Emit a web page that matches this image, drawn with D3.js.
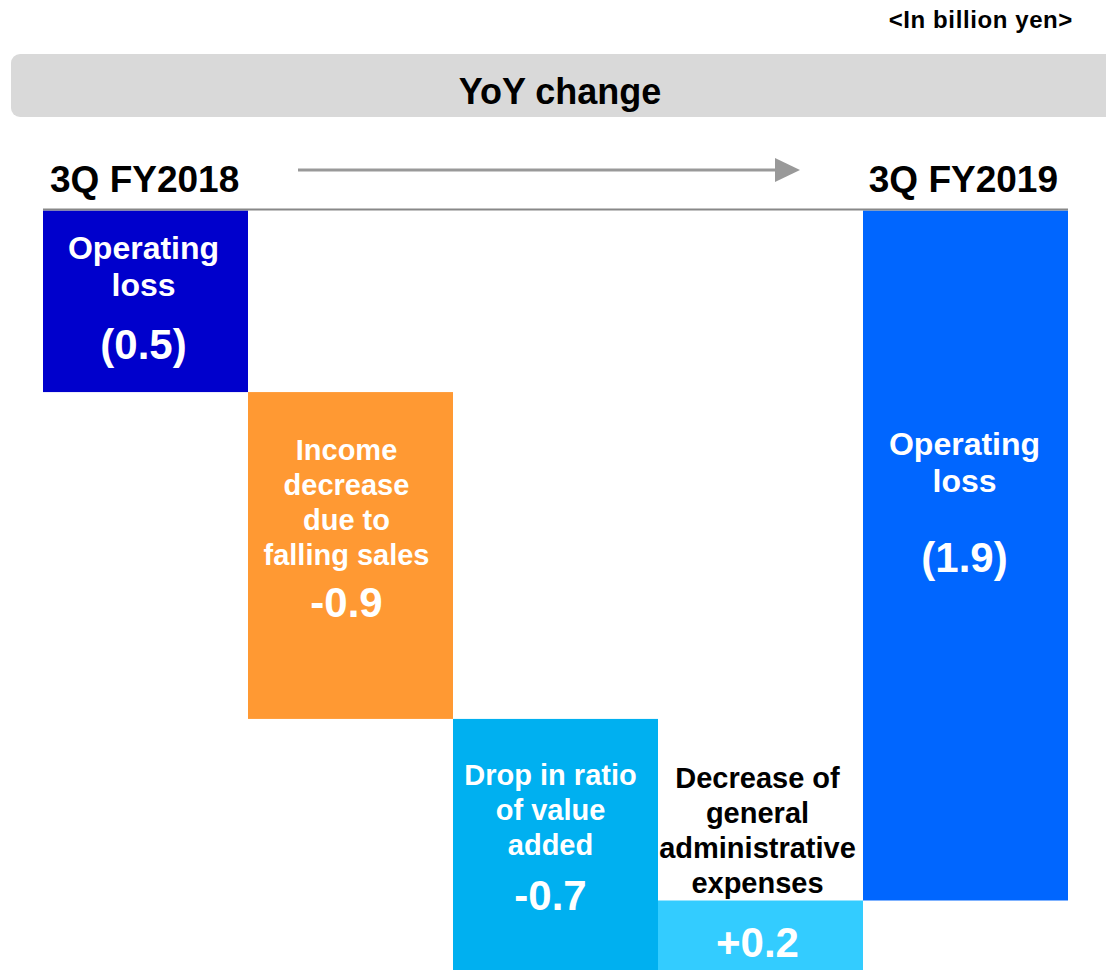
<!DOCTYPE html>
<html lang="en">
<head>
<meta charset="utf-8">
<title>YoY change waterfall</title>
<script src="https://d3js.org/d3.v7.min.js"></script>
<style type="text/css">
body { margin: 0; background: #fff; }
text { font-family: "Liberation Sans", Arial, sans-serif; font-weight: bold; }
</style>
</head>
<body>
<div id="chart"></div>
<script type="text/javascript">
// data
var categories = ["3Q FY2018", "Sales", "Value added", "G&A", "3Q FY2019"];
var values = [-0.5, -0.9, -0.7, 0.2, -1.9];
var kinds = ["total", "delta", "delta", "delta", "total"];
var labels = [
  ["Operating", "loss"],
  ["Income", "decrease", "due to", "falling sales"],
  ["Drop in ratio", "of value", "added"],
  ["Decrease of", "general", "administrative", "expenses"],
  ["Operating", "loss"]
];
var valueLabels = ["(0.5)", "-0.9", "-0.7", "+0.2", "(1.9)"];
var colors = ["#0000CC", "#FF9933", "#00B0F0", "#33CCFF", "#0066FF"];
var periodLabels = ["3Q FY2018", "3Q FY2019"];

// layout (px from bar top) for text blocks
var firstLine = [37, 58, 56, -123, 233];
var lineGap = [37, 35, 35, 35, 37];
var valueGap = [60, 47, 50, 0, 77];
var lineSize = [32, 29, 29, 29, 32];
var shiftX = [-2, -4, -5, -3, -1];

var w = 1106, h = 970;

var svg = d3.select("#chart").append("svg")
  .attr("width", w).attr("height", h);

var xScale = d3.scaleBand()
  .domain(categories)
  .range([43, 1068])
  .padding(0);

var yScale = d3.scaleLinear()
  .domain([0, -1.9])
  .range([210.5, 900.5]);

// cumulative start / end
var run = 0;
var bars = categories.map(function(c, i) {
  var s, e;
  if (kinds[i] === "total") { s = 0; e = values[i]; run = values[i]; }
  else { s = run; e = run + values[i]; run = e; }
  return { cat: c, start: s, end: e, i: i };
});

// header
svg.append("text")
  .attr("x", 1073).attr("y", 28)
  .attr("text-anchor", "end")
  .attr("font-size", 24)
  .style("letter-spacing", "0.6px")
  .text("<In billion yen>");

svg.append("rect")
  .attr("x", 11).attr("y", 54)
  .attr("width", 1120).attr("height", 63)
  .attr("rx", 9)
  .attr("fill", "#D9D9D9");

svg.append("text")
  .attr("x", 560).attr("y", 104)
  .attr("text-anchor", "middle")
  .attr("font-size", 36)
  .text("YoY change");

// period titles
svg.append("text")
  .attr("x", 50).attr("y", 192)
  .attr("font-size", 37)
  .text(periodLabels[0]);
svg.append("text")
  .attr("x", 1058).attr("y", 192)
  .attr("text-anchor", "end")
  .attr("font-size", 37)
  .text(periodLabels[1]);

// arrow
svg.append("line")
  .attr("x1", 298).attr("y1", 170)
  .attr("x2", 777).attr("y2", 170)
  .attr("stroke", "#999999").attr("stroke-width", 3);
svg.append("path")
  .attr("d", "M775,158 L800,170 L775,182 Z")
  .attr("fill", "#999999");

// bars
svg.selectAll("rect.bar")
  .data(bars)
  .enter()
  .append("rect")
  .attr("class", "bar")
  .attr("x", d => xScale(d.cat))
  .attr("y", d => yScale(Math.max(d.start, d.end)))
  .attr("width", xScale.bandwidth())
  .attr("height", d => Math.abs(yScale(d.end) - yScale(d.start)))
  .attr("fill", d => colors[d.i]);

// baseline
svg.append("line")
  .attr("x1", xScale.range()[0]).attr("x2", xScale.range()[1])
  .attr("y1", yScale(0) - 1).attr("y2", yScale(0) - 1)
  .attr("stroke", "#888888").attr("stroke-width", 2);

// labels
bars.forEach(function(d) {
  var i = d.i;
  var cx = xScale(d.cat) + xScale.bandwidth() / 2 + shiftX[i];
  var top = yScale(Math.max(d.start, d.end));
  var inside = i !== 3;
  labels[i].forEach(function(t, k) {
    svg.append("text")
      .attr("x", cx)
      .attr("y", top + firstLine[i] + k * lineGap[i])
      .attr("dy", "0.35em")
      .attr("text-anchor", "middle")
      .attr("font-size", lineSize[i])
      .attr("fill", inside ? "#fff" : "#000")
      .text(t);
  });
  var vy;
  if (inside) {
    vy = top + firstLine[i] + (labels[i].length - 1) * lineGap[i] + valueGap[i];
  } else {
    vy = (yScale(d.start) + yScale(d.end)) / 2 + 5;
  }
  svg.append("text")
    .attr("x", cx)
    .attr("y", vy)
    .attr("dy", "0.35em")
    .attr("text-anchor", "middle")
    .attr("font-size", 42)
    .attr("fill", "#fff")
    .text(valueLabels[i]);
});
</script>
</body>
</html>
